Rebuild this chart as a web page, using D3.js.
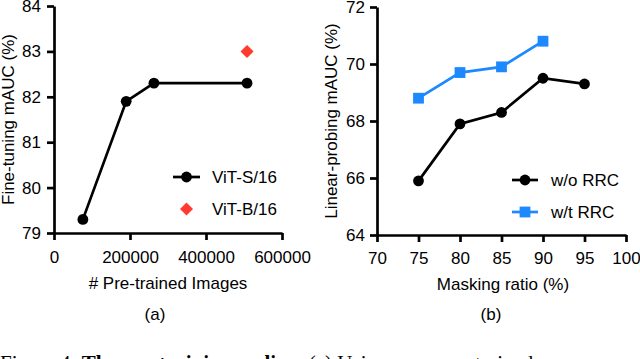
<!DOCTYPE html>
<html>
<head>
<meta charset="utf-8">
<script src="https://cdn.jsdelivr.net/npm/d3@7"></script>
<style>
  body { margin: 0; background: #fff; }
  svg { display: block; }
  .axis path, .axis line { stroke: #000; stroke-width: 2.7px; }
  .axis text { font-family: "Liberation Sans", Arial, sans-serif; font-size: 17px; fill: #000; }
  .lbl { font-family: "Liberation Sans", Arial, sans-serif; fill: #000; font-size: 17px; }
</style>
</head>
<body>
<div id="chart"></div>
<script>
// Panel (a): fine-tuning vs number of pre-trained images
const imagesS = [76000, 190000, 263000, 508000];
const aucS = [79.3, 81.9, 82.3, 82.3];
const imagesB = [508000];
const aucB = [83.0];
const xTicksA = [0, 200000, 400000, 600000];
const yTicksA = [79, 80, 81, 82, 83, 84];

// Panel (b): linear probing vs masking ratio
const ratios = [75, 80, 85, 90, 95];
const aucNoRRC = [65.9, 67.9, 68.3, 69.5, 69.3];
const ratiosRRC = [75, 80, 85, 90];
const aucRRC = [68.8, 69.7, 69.9, 70.8];
const xTicksB = [70, 75, 80, 85, 90, 95, 100];
const yTicksB = [64, 66, 68, 70, 72];

const blue = "#1e88ff";
const red = "#ff3b30";

const svg = d3.select("#chart")
  .append("svg")
  .attr("width", 640)
  .attr("height", 359);

// ---------- panel (a) ----------
const xA = d3.scaleLinear().domain([0, 600000]).range([54, 282]);
const yA = d3.scaleLinear().domain([79, 84]).range([233, 6]);

svg.append("g")
  .attr("class", "axis")
  .attr("transform", `translate(0, ${yA(79)})`)
  .call(d3.axisBottom(xA).tickValues(xTicksA).tickFormat(d3.format("d")).tickSize(7).tickSizeOuter(0).tickPadding(11));

svg.append("g")
  .attr("class", "axis")
  .attr("transform", `translate(${xA(0)}, 0)`)
  .call(d3.axisLeft(yA).tickValues(yTicksA).tickFormat(d3.format("d")).tickSize(7).tickSizeOuter(0).tickPadding(6));

svg.append("path")
  .datum(imagesS.map((d, i) => [d, aucS[i]]))
  .attr("fill", "none")
  .attr("stroke", "#000")
  .attr("stroke-width", 2.7)
  .attr("d", d3.line().x(d => xA(d[0])).y(d => yA(d[1])));

svg.selectAll("circle.ptS")
  .data(imagesS.map((d, i) => [d, aucS[i]]))
  .enter()
  .append("circle")
  .attr("class", "ptS")
  .attr("cx", d => xA(d[0]))
  .attr("cy", d => yA(d[1]))
  .attr("r", 5.4)
  .attr("fill", "#000");

const diamond = d3.symbol().type(d3.symbolSquare).size(85);
svg.selectAll("path.ptB")
  .data(imagesB.map((d, i) => [d, aucB[i]]))
  .enter()
  .append("path")
  .attr("class", "ptB")
  .attr("d", diamond)
  .attr("transform", d => `translate(${xA(d[0])}, ${yA(d[1])}) rotate(45)`)
  .attr("fill", red);

svg.append("text").attr("class", "lbl")
  .attr("x", 168).attr("y", 289)
  .attr("text-anchor", "middle")
  .text("# Pre-trained Images");

svg.append("text").attr("class", "lbl")
  .attr("x", 155).attr("y", 320)
  .attr("text-anchor", "middle")
  .text("(a)");

svg.append("text").attr("class", "lbl")
  .attr("transform", `translate(14, ${(yA(79) + yA(84)) / 2}) rotate(-90)`)
  .attr("text-anchor", "middle")
  .text("Fine-tuning mAUC (%)");

// legend (a)
const legA = svg.append("g");
legA.append("line").attr("x1", 173).attr("x2", 200).attr("y1", 177).attr("y2", 177)
  .attr("stroke", "#000").attr("stroke-width", 2.7);
legA.append("circle").attr("cx", 186.5).attr("cy", 177).attr("r", 5.4).attr("fill", "#000");
legA.append("text").attr("class", "lbl").attr("x", 212).attr("y", 183)
  .text("ViT-S/16");
legA.append("path").attr("d", diamond)
  .attr("transform", "translate(186.5, 209) rotate(45)").attr("fill", red);
legA.append("text").attr("class", "lbl").attr("x", 212).attr("y", 215)
  .text("ViT-B/16");

// ---------- panel (b) ----------
const xB = d3.scaleLinear().domain([70, 100]).range([377, 626]);
const yB = d3.scaleLinear().domain([64, 72]).range([235, 7]);

svg.append("g")
  .attr("class", "axis")
  .attr("transform", `translate(0, ${yB(64)})`)
  .call(d3.axisBottom(xB).tickValues(xTicksB).tickSize(7).tickSizeOuter(0).tickPadding(10));

svg.append("g")
  .attr("class", "axis")
  .attr("transform", `translate(${xB(70)}, 0)`)
  .call(d3.axisLeft(yB).tickValues(yTicksB).tickSize(7).tickSizeOuter(0).tickPadding(5));

const lineB = d3.line().x(d => xB(d[0])).y(d => yB(d[1]));

svg.append("path")
  .datum(ratiosRRC.map((d, i) => [d, aucRRC[i]]))
  .attr("fill", "none").attr("stroke", blue).attr("stroke-width", 2.7)
  .attr("d", lineB);

svg.selectAll("rect.ptRRC")
  .data(ratiosRRC.map((d, i) => [d, aucRRC[i]]))
  .enter()
  .append("rect")
  .attr("class", "ptRRC")
  .attr("x", d => xB(d[0]) - 5.4)
  .attr("y", d => yB(d[1]) - 5.4)
  .attr("width", 10.8).attr("height", 10.8)
  .attr("fill", blue);

svg.append("path")
  .datum(ratios.map((d, i) => [d, aucNoRRC[i]]))
  .attr("fill", "none").attr("stroke", "#000").attr("stroke-width", 2.7)
  .attr("d", lineB);

svg.selectAll("circle.ptNo")
  .data(ratios.map((d, i) => [d, aucNoRRC[i]]))
  .enter()
  .append("circle")
  .attr("class", "ptNo")
  .attr("cx", d => xB(d[0]))
  .attr("cy", d => yB(d[1]))
  .attr("r", 5.4)
  .attr("fill", "#000");

svg.append("text").attr("class", "lbl")
  .attr("x", 503).attr("y", 290)
  .attr("text-anchor", "middle")
  .text("Masking ratio (%)");

svg.append("text").attr("class", "lbl")
  .attr("x", 491).attr("y", 320)
  .attr("text-anchor", "middle")
  .text("(b)");

svg.append("text").attr("class", "lbl")
  .attr("transform", `translate(337, ${(yB(64) + yB(72)) / 2}) rotate(-90)`)
  .attr("text-anchor", "middle")
  .text("Linear-probing mAUC (%)");

// legend (b)
const legB = svg.append("g");
legB.append("line").attr("x1", 512).attr("x2", 538).attr("y1", 180).attr("y2", 180)
  .attr("stroke", "#000").attr("stroke-width", 2.7);
legB.append("circle").attr("cx", 525).attr("cy", 180).attr("r", 5.4).attr("fill", "#000");
legB.append("text").attr("class", "lbl").attr("x", 551).attr("y", 186)
  .text("w/o RRC");
legB.append("line").attr("x1", 512).attr("x2", 538).attr("y1", 212).attr("y2", 212)
  .attr("stroke", blue).attr("stroke-width", 2.7);
legB.append("rect").attr("x", 519.6).attr("y", 206.6).attr("width", 10.8).attr("height", 10.8)
  .attr("fill", blue);
legB.append("text").attr("class", "lbl").attr("x", 551).attr("y", 218)
  .text("w/t RRC");

// caption, cut off at the bottom edge as in the source
svg.append("text")
  .attr("x", 0).attr("y", 370)
  .attr("font-family", "Liberation Serif, Times New Roman, serif")
  .attr("font-size", 21)
  .attr("fill", "#000")
  .html('Figure 4: <tspan font-weight="bold">The pre-training scaling.</tspan> (a) Using more pre-trained');
</script>
</body>
</html>
